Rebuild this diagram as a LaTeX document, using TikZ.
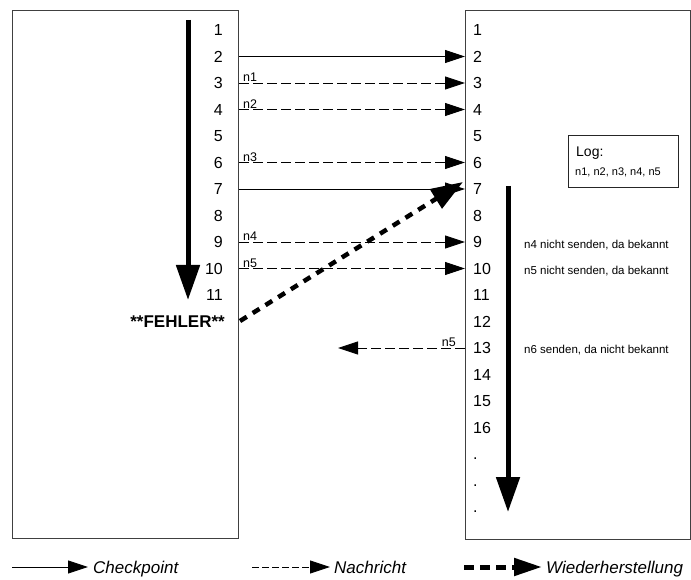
\documentclass[tikz,border=0pt]{standalone}
\usepackage{fontspec}
\setmainfont{Liberation Sans}
\usetikzlibrary{arrows.meta}
\begin{document}
\begin{tikzpicture}[x=1pt,y=-1pt,
  box/.style={draw=black!75, line width=1.2pt, anchor=north west, inner sep=0pt},
  num/.style={font=\fontsize{16}{16}\selectfont, inner sep=1pt},
  lbl/.style={font=\fontsize{12.5}{12.5}\selectfont, inner sep=1pt},
  cp/.style={line width=0.9pt, -{Triangle[length=20pt,width=13pt]}},
  msg/.style={line width=0.9pt, dash pattern=on 10pt off 4pt, -{Triangle[length=20pt,width=13pt]}},
  rec/.style={line width=4.5pt, dash pattern=on 8pt off 7pt, -{Triangle[length=32pt,width=22pt]}},
  big/.style={line width=5pt, -{Triangle[length=35pt,width=23pt]}},
  note/.style={font=\fontsize{11.5}{12}\selectfont, anchor=west, inner sep=0pt},
  leg/.style={font=\fontsize{17}{17}\selectfont\itshape, anchor=base west, inner sep=0pt}]
\useasboundingbox (0,0) rectangle (691,580);
% boxes
\node[box, minimum width=226pt, minimum height=528pt] (L) at (12,10) {};
\node[box, minimum width=225pt, minimum height=529pt] (R) at (465,10) {};
% numbers
\foreach \k in {1,...,11} {
  \node[num, anchor=east] (l\k) at (224, {30+(\k-1)*26.5}) {\k};
}
\node[num, anchor=east, font=\fontsize{17}{17}\selectfont\bfseries] (err) at (226, 321.5) {**FEHLER**};
\foreach \k in {1,...,16} {
  \node[num, anchor=west] (r\k) at (472, {30+(\k-1)*26.5}) {\k};
}
\foreach \k/\j in {17/1,18/2,19/3} {
  \node[num, anchor=base west] (rd\j) at (472, {30+(\k-1)*26.5+5.8}) {.};
}
% checkpoints
\draw[cp] (L.east |- l2) -- (R.west |- l2);
\draw[cp] (L.east |- l7) -- (R.west |- l7);
% messages
\foreach \r/\n in {3/1,4/2,6/3,9/4,10/5} {
  \draw[msg] (L.east |- l\r) -- (R.west |- l\r);
  \node[lbl, anchor=south west] (m\n) at (242, {30+(\r-1)*26.5}) {n\n};
}
% back message
\coordinate (bk) at (338,348);
\draw[msg] (R.west |- r13) -- (bk);
\node[lbl, anchor=south east] (mb) at (457,348) {n5};
% recovery
\coordinate (rs) at (240,321);
\coordinate (re) at (463,182);
\draw[rec] (rs) -- (re);
% big arrows
\coordinate (la1) at (188,20);
\coordinate (la2) at (188,300);
\draw[big] (la1) -- (la2);
\coordinate (ra1) at (508,186);
\coordinate (ra2) at (508,512);
\draw[big] (ra1) -- (ra2);
% log box
\node[box, draw=black!85, line width=0.9pt, minimum width=110pt, minimum height=52pt] (log) at (568,135) {};
\node[note, font=\fontsize{14}{14}\selectfont] (logt) at (576,153) {Log:};
\node[note, font=\fontsize{11}{12}\selectfont] (logl) at (575,172) {n1, n2, n3, n4, n5};
% notes
\node[note] (t9) at (524,245) {n4 nicht senden, da bekannt};
\node[note] (t10) at (524,271) {n5 nicht senden, da bekannt};
\node[note] (t13) at (524,350) {n6 senden, da nicht bekannt};
% legend
\coordinate (g1a) at (12,567);
\coordinate (g1b) at (88,567);
\draw[cp] (g1a) -- (g1b);
\node[leg] (g1) at (93,573) {Checkpoint};
\coordinate (g2a) at (252,567);
\coordinate (g2b) at (330,567);
\draw[msg, dash pattern=on 7pt off 3pt] (g2a) -- (g2b);
\node[leg] (g2) at (334,573) {Nachricht};
\coordinate (g3a) at (464,567);
\coordinate (g3b) at (542,567);
\draw[line width=5pt, dash pattern=on 10pt off 6pt, -{Triangle[length=28pt,width=17pt]}] (g3a) -- (g3b);
\node[leg] (g3) at (546,573) {Wiederherstellung};
\end{tikzpicture}
\end{document}
